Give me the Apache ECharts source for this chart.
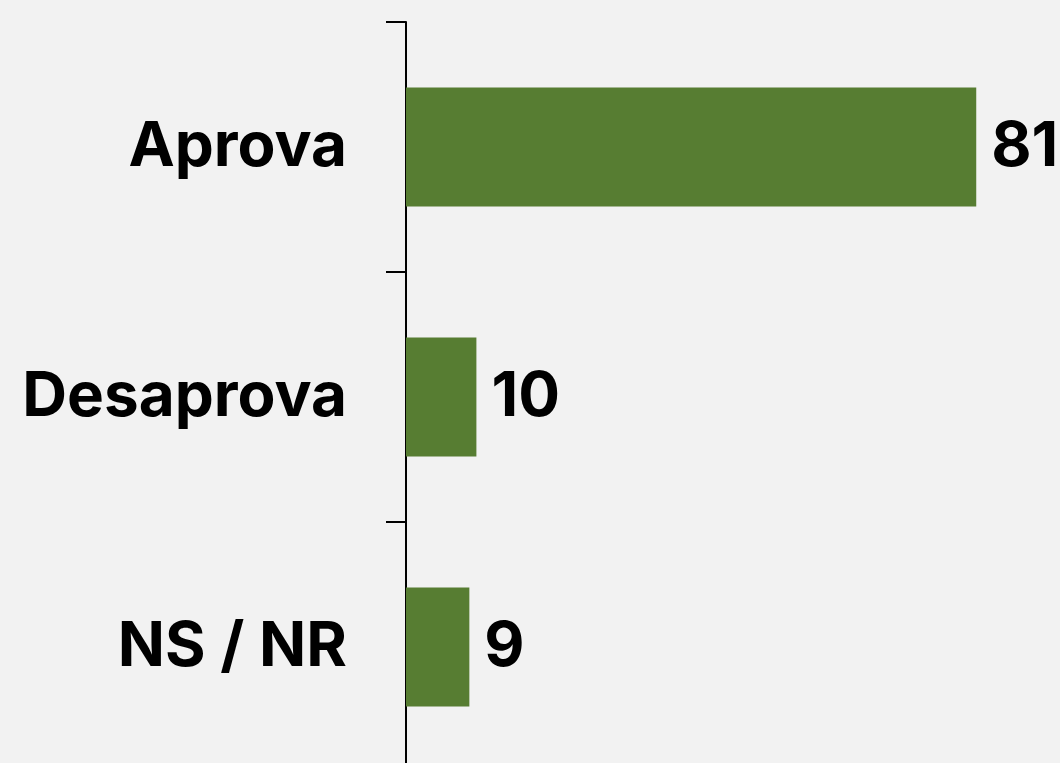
<!DOCTYPE html>
<html>
<head>
<meta charset="utf-8">
<script src="https://cdn.jsdelivr.net/npm/echarts@6/dist/echarts.min.js"></script>
<style>
html, body { margin: 0; padding: 0; background: #f2f2f2; }
#main { width: 1060px; height: 763px; }
</style>
</head>
<body>
<div id="main"></div>
<script>
// categorias e valores (%)
var categories = ['Aprova', 'Desaprova', 'NS / NR'];
var values = [81, 10, 9];

var chart = echarts.init(document.getElementById('main'));

var option = {
	backgroundColor: '#f2f2f2',
	animation: false,
	grid: {
		left: 406,
		top: 22,
		width: 704,
		height: 750,
		containLabel: false,
		outerBoundsMode: 'none'
	},
	xAxis: {
		type: 'value',
		min: 0,
		max: 100,
		show: false,
		splitLine: { show: false }
	},
	yAxis: {
		type: 'category',
		data: categories,
		inverse: true,
		axisLine: { show: true, lineStyle: { color: '#000', width: 2 } },
		axisTick: { show: true, length: 20, lineStyle: { color: '#000', width: 2 } },
		axisLabel: {
			margin: 59,
			color: '#000',
			fontFamily: 'Inter',
			fontWeight: 'bold',
			fontSize: 62
		}
	},
	series: [{
		type: 'bar',
		data: values,
		barWidth: 119,
		itemStyle: { color: '#577d32' },
		label: {
			show: true,
			position: 'right',
			distance: 15,
			color: '#000',
			fontFamily: 'Inter',
			fontWeight: 'bold',
			fontSize: 62
		}
	}]
};

chart.setOption(option);
</script>
</body>
</html>
